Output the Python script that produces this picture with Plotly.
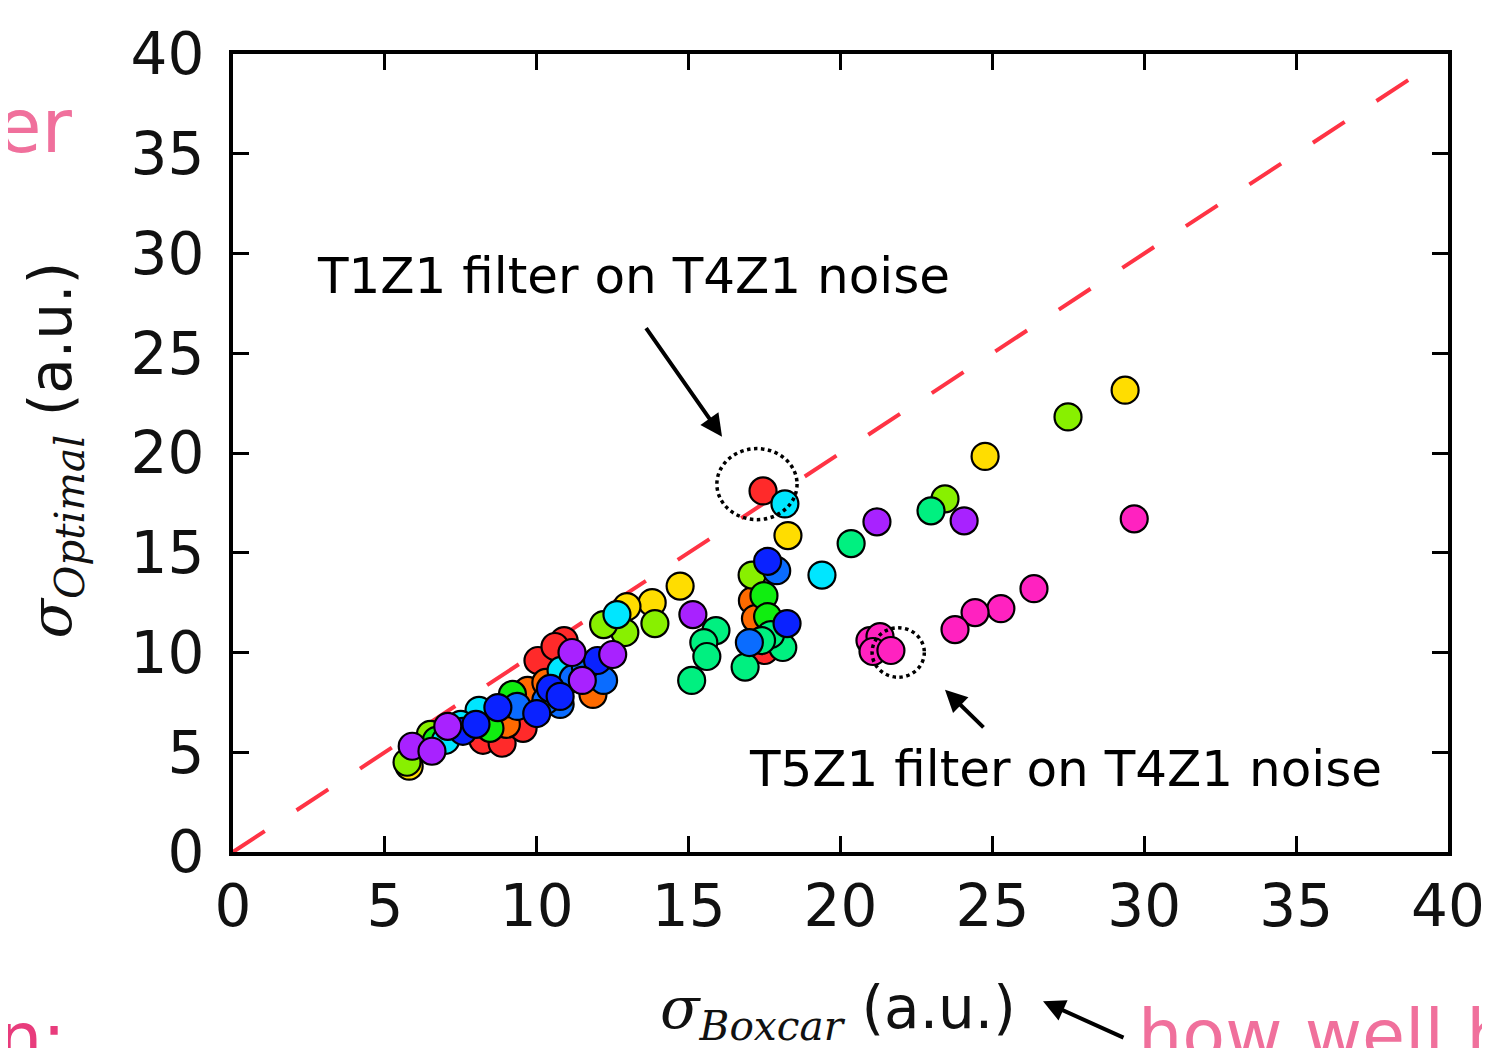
import plotly.graph_objects as go

# ---- data ----
palette = {
    "red": "#ff2a2a", "orange": "#ff6a00", "yellow": "#ffdd00", "lime": "#88f000",
    "green": "#10ee10", "spring": "#00f080", "cyan": "#00e6ff", "azure": "#0a6cff",
    "blue": "#0a22ff", "purple": "#a822ff", "magenta": "#ff22c0",
}

red_x = [17.45, 10.04, 10.9, 10.6, 8.23, 8.86, 9.55, 17.5]
red_y = [18.1, 9.6, 10.6, 10.3, 5.6, 5.45, 6.2, 10.1]
orange_x = [11.85, 9.7, 9.0, 17.1, 17.2, 10.3]
orange_y = [7.9, 8.1, 6.4, 12.6, 11.7, 8.5]
yellow_x = [5.8, 29.37, 24.76, 18.27, 14.72, 13.8, 12.97]
yellow_y = [4.3, 23.15, 19.83, 15.86, 13.33, 12.5, 12.3]
lime_x = [27.49, 23.44, 13.89, 12.9, 12.2, 17.09, 5.73, 6.5]
lime_y = [21.81, 17.7, 11.45, 11.0, 11.4, 13.88, 4.5, 5.9]
green_x = [17.48, 17.6, 8.46, 9.2, 6.7]
green_y = [12.85, 11.8, 6.2, 7.9, 5.6]
spring_x = [22.98, 20.35, 15.9, 15.5, 15.6, 15.1, 16.86, 18.1, 17.7, 17.4]
spring_y = [17.1, 15.46, 11.1, 10.5, 9.8, 8.6, 9.27, 10.25, 10.9, 10.6]
cyan_x = [18.17, 19.39, 12.64, 8.1, 7.0, 10.8, 7.5]
cyan_y = [17.45, 13.88, 11.9, 7.1, 5.6, 9.1, 6.4]
azure_x = [17.9, 17.0, 9.35, 10.77, 12.2, 11.2, 10.3, 11.6]
azure_y = [14.1, 10.5, 7.3, 7.4, 8.6, 8.7, 7.6, 9.3]
blue_x = [17.6, 18.24, 10.45, 10.0, 8.72, 12.0, 10.77, 7.57, 8.0]
blue_y = [14.57, 11.45, 8.2, 6.94, 7.24, 9.6, 7.8, 6.05, 6.4]
purple_x = [21.2, 24.07, 15.14, 11.16, 12.5, 11.5, 7.07, 5.9, 6.55]
purple_y = [16.55, 16.6, 11.9, 10.0, 9.9, 8.6, 6.3, 5.3, 5.05]
magenta_x = [29.67, 26.37, 25.28, 24.43, 23.77, 20.97, 21.3, 21.07, 21.66]
magenta_y = [16.7, 13.2, 12.2, 12.0, 11.15, 10.6, 10.8, 10.05, 10.1]

groups = [
    ("yellow", yellow_x, yellow_y), ("red", red_x, red_y), ("orange", orange_x, orange_y),
    ("lime", lime_x, lime_y), ("green", green_x, green_y), ("spring", spring_x, spring_y),
    ("cyan", cyan_x, cyan_y), ("azure", azure_x, azure_y), ("blue", blue_x, blue_y),
    ("purple", purple_x, purple_y), ("magenta", magenta_x, magenta_y),
]

tick_vals = [0, 5, 10, 15, 20, 25, 30, 35, 40]
diag = [0, 39]

fig = go.Figure()
fig.add_trace(go.Scatter(
    x=diag, y=diag, mode="lines", hoverinfo="skip",
    line=dict(color="#ff3344", width=4, dash="38px,38px"), showlegend=False))

for name, xs, ys in groups:
    fig.add_trace(go.Scatter(
        x=xs, y=ys, mode="markers", showlegend=False,
        marker=dict(size=27, color=palette[name], line=dict(color="black", width=2.2))))

tick_font = dict(family="DejaVu Sans", size=58, color="#111")
axis_common = dict(
    range=[0, 40], tickvals=tick_vals, ticks="inside", ticklen=16, tickwidth=2.5,
    tickcolor="black", showline=True, linecolor="black", linewidth=4, mirror="allticks",
    showgrid=False, zeroline=False, tickfont=tick_font,
)
fig.update_xaxes(**axis_common, ticklabelstandoff=0)
fig.update_yaxes(**axis_common, ticklabelstandoff=13)

# dotted circles
fig.add_shape(type="circle", xref="x", yref="y", x0=17.25 - 1.32, x1=17.25 + 1.32,
              y0=18.44 - 1.78, y1=18.44 + 1.78, line=dict(color="black", width=3.5, dash="dot"))
fig.add_shape(type="circle", xref="x", yref="y", x0=21.9 - 0.86, x1=21.9 + 0.86,
              y0=10.0 - 1.24, y1=10.0 + 1.24, line=dict(color="black", width=3.5, dash="dot"))

# plot area in page pixels: x 233..1448, y 45..852 (page has an 8px body margin)
PX0, PY0, PW, PH = 233, 852, 1215, 807


def px(xp):
    return (xp - PX0) / PW


def py(yp):
    return (PY0 - yp) / PH


ann_font = dict(family="DejaVu Sans", size=50, color="black")
serif = "font-family:'DejaVu Serif';font-style:italic"
annotations = [
    dict(text="T1Z1 filter on T4Z1 noise", x=13.17, y=28.85, xref="x", yref="y",
         showarrow=False, font=ann_font, xanchor="center", yanchor="middle"),
    dict(text="T5Z1 filter on T4Z1 noise", x=27.42, y=4.16, xref="x", yref="y",
         showarrow=False, font=ann_font, xanchor="center", yanchor="middle"),
    dict(text="", x=16.1, y=20.82, xref="x", yref="y", ax=-77, ay=-110,
         showarrow=True, arrowhead=2, arrowsize=1.1, arrowwidth=4, arrowcolor="black"),
    dict(text="", x=23.44, y=8.13, xref="x", yref="y", ax=40, ay=39,
         showarrow=True, arrowhead=2, arrowsize=1.1, arrowwidth=4, arrowcolor="black"),
    dict(text="", x=px(1043), y=py(1003), xref="paper", yref="paper",
         ax=82, ay=37, showarrow=True, arrowhead=2, arrowsize=1.1, arrowwidth=4,
         arrowcolor="black"),
    dict(text=f"<span style=\"{serif}\">σ<sub>Boxcar</sub></span> (a.u.)",
         x=px(838), y=py(1014), xref="paper", yref="paper", showarrow=False,
         xanchor="center", yanchor="middle",
         font=dict(family="DejaVu Sans", size=58, color="#111")),
    dict(text=f"<span style=\"{serif}\">σ<sub>Optimal</sub></span> (a.u.)",
         x=px(55), y=py(446), xref="paper", yref="paper", showarrow=False,
         xanchor="center", yanchor="middle", textangle=-90,
         font=dict(family="DejaVu Sans", size=58, color="#111")),
    dict(text="er", x=px(-6), y=py(118), xref="paper", yref="paper",
         xanchor="left", yanchor="middle", showarrow=False,
         font=dict(family="DejaVu Sans", size=74, color="#f0709c")),
    dict(text="n:", x=px(-4), y=py(1040), xref="paper", yref="paper",
         xanchor="left", yanchor="middle", showarrow=False,
         font=dict(family="DejaVu Sans", size=70, color="#e83c7c")),
    dict(text="how well h", x=px(1136), y=py(1037), xref="paper",
         yref="paper", xanchor="left", yanchor="middle", showarrow=False,
         font=dict(family="DejaVu Sans", size=70, color="#f0709c")),
]

fig.update_layout(
    width=1490, height=1048, margin=dict(l=225, r=50, t=37, b=204),
    paper_bgcolor="white", plot_bgcolor="white", annotations=annotations,
)

fig.write_html("out.html")
